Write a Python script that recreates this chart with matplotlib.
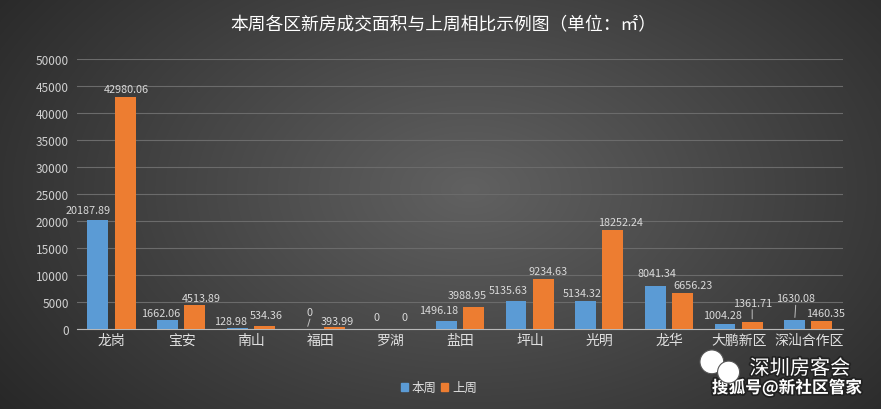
import numpy as np
import matplotlib
matplotlib.use("Agg")
import matplotlib.pyplot as plt
from matplotlib.patches import Ellipse, Patch
import matplotlib.patheffects as pe

plt.rcParams['font.family'] = ['Noto Sans CJK SC', 'DejaVu Sans']

districts = ["龙岗", "宝安", "南山", "福田", "罗湖", "盐田", "坪山", "光明", "龙华", "大鹏新区", "深汕合作区"]
this_week = [20187.89, 1662.06, 128.98, 0, 0, 1496.18, 5135.63, 5134.32, 8041.34, 1004.28, 1630.08]
last_week = [42980.06, 4513.89, 534.36, 393.99, 0, 3988.95, 9234.63, 18252.24, 6656.23, 1361.71, 1460.35]
series_names = ["本周", "上周"]
title = "本周各区新房成交面积与上周相比示例图（单位：㎡）"

blue = "#5b9bd5"
orange = "#ed7d31"

# label offsets in pixels (dx, dy up) from bar top, matching the original layout
blue_off = [(-10, 10), (-7, 7), (-7, 7), (3, 17), (0, 12), (-8, 11), (-8, 11), (-3, 8), (2, 13), (-3, 9), (1, 22)]
orange_off = [(1, 8), (7, 7), (2, 11), (3, 6), (1, 12), (-6, 12), (5, 8), (8, 8), (10, 8), (0, 19), (4, 8)]
leaders = {("b", 3), ("o", 9), ("b", 10)}

fig = plt.figure(figsize=(8.81, 4.10), dpi=100)

# dark radial background
bg = fig.add_axes([0, 0, 1, 1], zorder=-10)
yy, xx = np.mgrid[0:410, 0:881]
r = np.sqrt(((xx - 470) / 520.0) ** 2 + ((yy - 190) / 330.0) ** 2)
shade = np.clip(0.38 - 0.2 * r, 0.15, 0.40)
bg.imshow(np.dstack([shade] * 3), aspect="auto", extent=[0, 1, 0, 1])
bg.axis("off")

ax = fig.add_axes([0.0874, 0.195, 0.870, 0.659])
ax.set_facecolor("none")

x = np.arange(len(districts))
w = 0.30
b1 = ax.bar(x - 0.2, this_week, w, color=blue, zorder=3)
b2 = ax.bar(x + 0.19, last_week, w, color=orange, zorder=3)

ax.set_ylim(0, 50000)
ax.set_xlim(-0.5, len(districts) - 0.5)
ax.set_yticks(np.arange(0, 50001, 5000))
ax.yaxis.grid(True, color="#6b6b6b", linewidth=0.8, zorder=0)
ax.set_axisbelow(True)
for s in ["top", "right", "left"]:
    ax.spines[s].set_visible(False)
ax.spines["bottom"].set_color("#b8b8b8")
ax.tick_params(axis="y", length=0, colors="#d0d0d0", labelsize=8.5, pad=6)
ax.tick_params(axis="x", length=0, colors="#e0e0e0", labelsize=10, pad=3)
ax.set_xticks(x)
ax.set_xticklabels(districts)


def fmt(v):
    return "0" if v == 0 else f"{v:.2f}"


for key, bars, vals, offs in [("b", b1, this_week, blue_off), ("o", b2, last_week, orange_off)]:
    for i, (bar, v) in enumerate(zip(bars, vals)):
        cx = bar.get_x() + bar.get_width() / 2
        dx, dy = offs[i]
        ax.annotate(fmt(v), (cx, v), xytext=(dx, dy), textcoords="offset pixels",
                    ha="center", va="center", fontsize=7.8, color="#d9d9d9", zorder=5)
        if (key, i) in leaders:
            ax.annotate("", (cx, v), xytext=(dx, dy - 7), textcoords="offset pixels",
                        arrowprops=dict(arrowstyle="-", color="#bfbfbf", lw=0.7,
                                        shrinkA=0, shrinkB=2))

fig.text(0.503, 0.938, title, ha="center", va="center", fontsize=12.8, color="white")

handles = [Patch(color=blue), Patch(color=orange)]
fig.legend(handles, series_names, loc="center", bbox_to_anchor=(0.498, 0.052), ncol=2,
           frameon=False, fontsize=9, labelcolor="#e0e0e0", handlelength=0.6,
           handleheight=0.6, handletextpad=0.3, columnspacing=0.3)

# watermark
outline = [pe.withStroke(linewidth=2.5, foreground="#222222")]
fig.text(0.965, 0.098, "深圳房客会", ha="right", va="center", fontsize=14.5,
         color="white", path_effects=outline)
fig.text(0.978, 0.052, "搜狐号@新社区管家", ha="right", va="center", fontsize=12,
         color="white", fontweight="bold", path_effects=outline)
aspect = 881 / 410
for cx, cy, rr in [(0.808, 0.115, 0.0135), (0.827, 0.090, 0.0125)]:
    fig.patches.append(Ellipse((cx, cy), 2 * rr, 2 * rr * aspect, transform=fig.transFigure,
                               facecolor="white", edgecolor="#555555", lw=0.8,
                               zorder=5))

fig.savefig("out.png", dpi=100)
